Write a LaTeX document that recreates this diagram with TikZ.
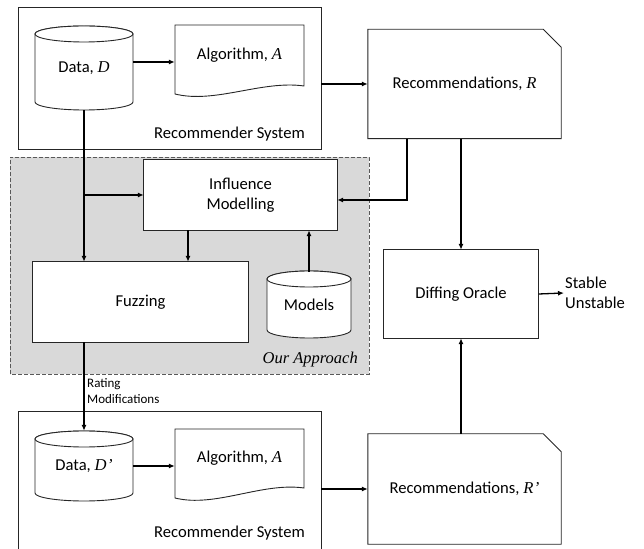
\documentclass[tikz,border=0pt]{standalone}
\usepackage{fontspec}
\setmainfont{Carlito}
\newfontfamily\tnr{Liberation Serif}
\usetikzlibrary{arrows.meta,calc,backgrounds}
\newcommand\mathv[1]{{\tnr\itshape #1}}
\definecolor{apprfill}{HTML}{D9D9D9}
\definecolor{apprline}{HTML}{595959}
\begin{document}
\begin{tikzpicture}[x=1pt,y=1pt,
  lbl/.style={font=\fontsize{16.6}{20}\selectfont, align=center},
  plain/.style={draw=none, inner sep=0pt},
  frame/.style={draw=black!85, line width=0.9pt},
  outline/.style={draw=black!85, line width=0.9pt, fill=white},
  conn/.style={line width=1.3pt, -{Latex[length=6pt,width=5pt]}}
]
\useasboundingbox (0,0) rectangle (644,548);

% ---- nodes (text) ----
\node[plain, frame, minimum width=303pt, minimum height=142pt] (rs1) at (169.5,470) {};
\node[lbl, anchor=east, inner sep=0pt] (rs1l) at (305,414) {Recommender System};
\node[plain, lbl, minimum width=98pt, minimum height=84pt] (data1) at (84,480) {\raisebox{-4pt}{Data, \mathv{D}}};
\node[plain, lbl, minimum width=129pt, minimum height=61pt] (alg1) at (239.5,492.5) {Algorithm, \mathv{A}};
\node[plain, lbl, minimum width=193pt, minimum height=109pt] (rec1) at (464.5,464) {\raisebox{-5pt}{Recommendations, \mathv{R}}};

\node[plain, lbl, minimum width=193pt, minimum height=70pt] (inf) at (240.5,353) {Influence\\Modelling};
\node[plain, lbl, minimum width=215pt, minimum height=80pt] (fuzz) at (140.5,246) {Fuzzing};
\node[plain, lbl, minimum width=84pt, minimum height=66pt] (models) at (309,243) {\raisebox{-4pt}{Models}};
\node[font=\tnr\itshape\fontsize{16.5}{20}\selectfont, anchor=east, inner sep=0pt] (appr) at (358,188) {Our Approach};

\node[plain, lbl, minimum width=155pt, minimum height=88pt] (diff) at (461,254) {Diffing Oracle};
\node[lbl, align=left, anchor=west, inner sep=1pt] (stab) at (564,255) {Stable\\Unstable};

\node[font=\fontsize{13}{16}\selectfont, align=left, anchor=west, inner sep=1pt] (rmod) at (86,157) {Rating\\Modifications};

\node[plain, frame, minimum width=303pt, minimum height=147pt] (rs2) at (169.5,63.5) {};
\node[lbl, anchor=east, inner sep=0pt] (rs2l) at (305,15) {Recommender System};
\node[plain, lbl, minimum width=98pt, minimum height=70pt] (data2) at (84,82) {\raisebox{-10pt}{Data, \mathv{D\kern0.5pt’}}};
\node[plain, lbl, minimum width=129pt, minimum height=59pt] (alg2) at (239.5,89.5) {Algorithm, \mathv{A}};
\node[plain, lbl, minimum width=193pt, minimum height=110pt] (rec2) at (464.5,59) {\raisebox{-6pt}{Recommendations, \mathv{R\kern0.5pt’}}};

% ---- outlines ----
\begin{scope}[on background layer]
  \path[fill=apprfill, draw=apprline, line width=0.8pt, dash pattern=on 4pt off 2pt] (10,174) rectangle (369,391);
  % data 1 cylinder
  \path[outline] (35,514) -- (35,446) arc[start angle=180,end angle=360,x radius=49,y radius=8] -- (133,514) arc[start angle=0,end angle=180,x radius=49,y radius=8] -- cycle;
  \path[outline] (84,514) ellipse[x radius=49,y radius=8];
  % algorithm 1 document
  \path[outline] (175,454) -- (175,523) -- (304,523) -- (304,462) .. controls (262,468) and (215,444) .. (175,454) -- cycle;
  % recommendations 1
  \path[outline] (rec1.south west) -- (rec1.north west) -- ([xshift=-18pt]rec1.north east) -- ([yshift=-18pt]rec1.north east) -- (rec1.south east) -- cycle;
  % influence, fuzzing, diffing
  \path[outline] (inf.south west) rectangle (inf.north east);
  \path[outline] (fuzz.south west) rectangle (fuzz.north east);
  \path[outline] (diff.south west) rectangle (diff.north east);
  % models cylinder
  \path[outline] (267,269) -- (267,218) arc[start angle=180,end angle=360,x radius=42,y radius=8] -- (351,269) arc[start angle=0,end angle=180,x radius=42,y radius=8] -- cycle;
  \path[outline] (309,269) ellipse[x radius=42,y radius=8];
  % data 2 cylinder
  \path[outline] (35,109) -- (35,55) arc[start angle=180,end angle=360,x radius=49,y radius=8] -- (133,109) arc[start angle=0,end angle=180,x radius=49,y radius=8] -- cycle;
  \path[outline] (84,109) ellipse[x radius=49,y radius=8];
  % algorithm 2 document
  \path[outline] (175,50) -- (175,119) -- (304,119) -- (304,60) .. controls (262,66) and (215,40) .. (175,50) -- cycle;
  % recommendations 2
  \path[outline] (rec2.south west) -- (rec2.north west) -- ([xshift=-18pt]rec2.north east) -- ([yshift=-18pt]rec2.north east) -- (rec2.south east) -- cycle;
\end{scope}

% ---- connectors ----
\draw[conn] ([yshift=6pt]data1.east) -- ([yshift=6pt]data1.east -| alg1.west);
\draw[conn] (rs1.east |- rec1.west) -- (rec1.west);
\draw[conn] (data1.south) -- (data1.south |- fuzz.north);
\draw[conn] (data1.south |- inf.west) -- (inf.west);
\coordinate (ia) at ([xshift=-52.5pt]inf.south);
\draw[conn] (ia) -- (ia |- fuzz.north);
\draw[conn] (models.north) -- (models.north |- inf.south);
\coordinate (rb) at ([xshift=-57.5pt]rec1.south);
\draw[conn] (rb) |- ([yshift=-5pt]inf.east);
\draw[conn] (diff.north |- rec1.south) -- (diff.north);
\draw[conn] (diff.east) -- (stab.west);
\draw[conn] (data2.north |- fuzz.south) -- (data2.north);
\draw[conn] (data2.east) -- (data2.east -| alg2.west);
\draw[conn] (rs2.east |- rec2.west) -- (rec2.west);
\draw[conn] (diff.south |- rec2.north) -- (diff.south);
\end{tikzpicture}
\end{document}
